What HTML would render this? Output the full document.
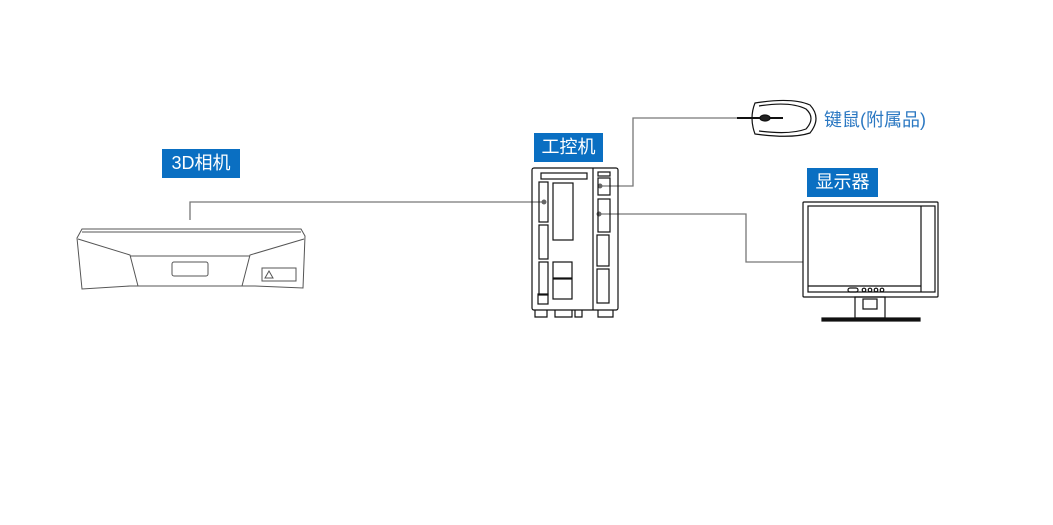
<!DOCTYPE html>
<html><head><meta charset="utf-8"><style>
body{margin:0;background:#fff;width:1053px;height:525px;overflow:hidden;position:relative;font-family:"Liberation Sans","Noto Sans CJK SC",sans-serif}
.lb{position:absolute;background:#0a6fc2;color:#fff;font-size:18px;line-height:29px;text-align:center}
</style></head><body>
<svg width="1053" height="525" style="position:absolute;left:0;top:0" fill="none" stroke="#222" stroke-width="1.2">
<g stroke="#777" stroke-width="1.3">
<polyline points="190,220 190,202 544,202"/>
<polyline points="600,186 633,186 633,118 737,118"/>
<polyline points="599,214 746,214 746,262 803,262"/>
</g>
<g fill="#666" stroke="none"><circle cx="544" cy="202" r="2.5"/><circle cx="600" cy="186" r="2.5"/><circle cx="599" cy="214" r="2.5"/></g>
<g stroke="#555" stroke-width="1">
<path d="M82,229 L301,229 L305,236 L303,288 L255,286 L130,286 L82,289 L77,238 Z"/>
<line x1="82" y1="232" x2="301" y2="232"/>
<path d="M78,239 L130,255 L138,286"/>
<path d="M304,239 L250,255 L242,286"/>
<line x1="130" y1="256" x2="250" y2="256"/>
<rect x="172" y="262" width="36" height="14" rx="2"/>
<rect x="262" y="268" width="34" height="13"/>
<path d="M265,278 L269,271 L273,278Z"/>
</g>
<g stroke="#111">
<rect x="532" y="168" width="86" height="142" rx="2"/>
<line x1="593" y1="168" x2="593" y2="310"/>
<rect x="541" y="173" width="46" height="6"/>
<rect x="598" y="172" width="12" height="4"/>
<rect x="598" y="178" width="12" height="17"/>
<rect x="598" y="199" width="12" height="33"/>
<rect x="597" y="235" width="12" height="31"/>
<rect x="597" y="269" width="12" height="34"/>
<rect x="539" y="182" width="9" height="40"/>
<rect x="539" y="225" width="9" height="34"/>
<rect x="539" y="262" width="9" height="33"/>
<rect x="553" y="183" width="20" height="57"/>
<rect x="553" y="262" width="19" height="16"/>
<rect x="553" y="279" width="19" height="20"/>
<rect x="538" y="294" width="10" height="10"/>
<path d="M535,310 V317 H547 V310 M555,310 V317 H572 V310 M575,310 V317 H582 V310 M598,310 V317 H613 V310"/>
</g>
<g stroke="#111">
<path d="M755,103 Q792,97 810,105 Q822,118 810,133 Q792,139 755,134 Q749,118 755,103Z"/>
<path d="M759,106 Q790,101 806,109 Q816,118 806,129 Q790,135 759,131"/>
<line x1="737" y1="118" x2="783" y2="118" stroke-width="2"/>
<ellipse cx="765" cy="118" rx="5" ry="3" fill="#222"/>
</g>
<g stroke="#111">
<rect x="803" y="202" width="135" height="95" rx="1"/>
<rect x="808" y="206" width="127" height="86"/>
<line x1="921" y1="206" x2="921" y2="292"/>
<line x1="808" y1="286" x2="921" y2="286"/>
<rect x="855" y="297" width="30" height="21"/>
<rect x="863" y="299" width="14" height="10"/>
<rect x="822" y="318" width="98" height="3" fill="#111"/>
<circle cx="864" cy="290" r="1.8"/><circle cx="870" cy="290" r="1.8"/><circle cx="876" cy="290" r="1.8"/><circle cx="882" cy="290" r="1.8"/>
<rect x="848" y="288" width="10" height="4" rx="2"/>
</g>
</svg>
<div class="lb" style="left:162px;top:149px;width:78px;height:29px">3D相机</div>
<div class="lb" style="left:534px;top:133px;width:69px;height:29px">工控机</div>
<div class="lb" style="left:807px;top:168px;width:71px;height:29px">显示器</div>
<div style="position:absolute;left:824px;top:106px;font-size:18px;color:#2b78c2">键鼠(附属品)</div>
</body></html>
